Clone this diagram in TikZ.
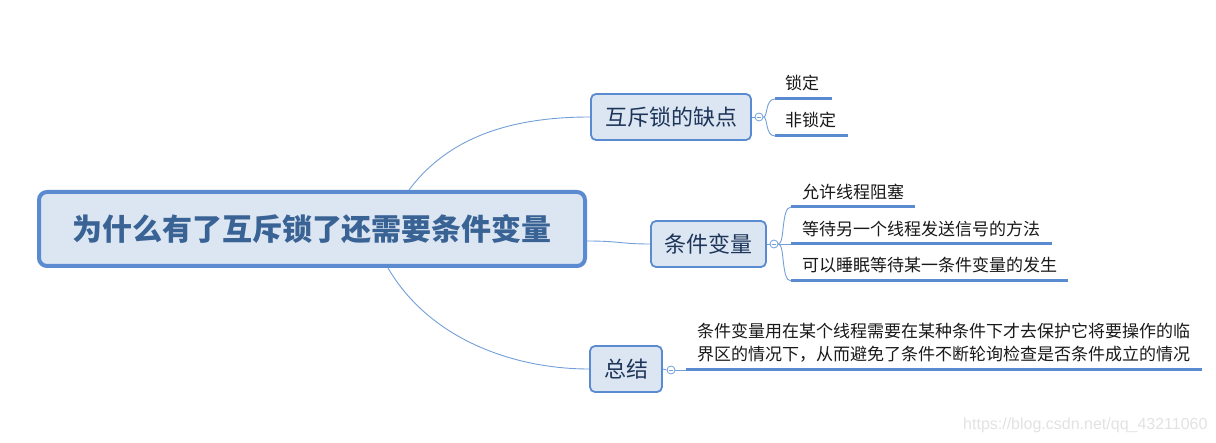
\documentclass[tikz,border=0pt]{standalone}
\usepackage{fontspec}
\newfontfamily\cjk{Noto Sans CJK SC}
\newfontfamily\wmfont{Liberation Sans}
\definecolor{bordblue}{HTML}{5A8BD1}
\definecolor{boxfill}{HTML}{DCE6F2}
\definecolor{roottext}{HTML}{3A6395}
\definecolor{subtext}{HTML}{1E355A}
\definecolor{linkblue}{HTML}{739FD8}
\definecolor{wmgray}{HTML}{E2E2E2}
\begin{document}
\begin{tikzpicture}[x=1pt,y=-1pt,
  rootbox/.style={draw=bordblue, fill=boxfill, line width=4pt, rounded corners=8pt,
    minimum width=546pt, minimum height=74pt, inner sep=0pt,
    font=\cjk\bfseries\fontsize{30}{34}\selectfont, text=roottext},
  subbox/.style={draw=bordblue, fill=boxfill, line width=1.8pt, rounded corners=5pt,
    minimum height=46pt, inner sep=0pt,
    font=\cjk\fontsize{22}{26}\selectfont, text=subtext},
  leaf/.style={inner sep=0pt, anchor=west, font=\cjk\fontsize{17}{23}\selectfont, text=black!90},
  toggle/.style={circle, draw=linkblue, fill=white, line width=0.8pt, minimum size=8pt, inner sep=0pt},
  link/.style={draw=linkblue, line width=0.9pt},
  uline/.style={draw=bordblue, line width=3pt},
  minus/.style={draw=linkblue, line width=0.7pt}
]
\useasboundingbox (0,0) rectangle (1216,443);

% root and main topics
\node[rootbox] (root) at (312,229) {为什么有了互斥锁了还需要条件变量};
\node[subbox, minimum width=160pt] (h1) at (671,117) {互斥锁的缺点};
\node[subbox, minimum width=115pt] (h2) at (708.5,244) {条件变量};
\node[subbox, minimum width=72pt] (h3) at (626,369) {总结};

% root connectors
\draw[link] ([xshift=97pt]root.north) .. controls (450,135) and (515,117) .. (h1.west);
\draw[link] ([yshift=-12pt]root.east) .. controls (620,241) and (620,244) .. (h2.west);
\draw[link] ([xshift=76pt]root.south) .. controls (430,340) and (515,369) .. (h3.west);

% toggles
\node[toggle] (c1) at (759,117) {};
\node[toggle] (c2) at (774,244) {};
\node[toggle] (c3) at (671,370) {};
\draw[minus] ([xshift=-2.3pt]c1.center) -- ([xshift=2.3pt]c1.center);
\draw[minus] ([xshift=-2.3pt]c2.center) -- ([xshift=2.3pt]c2.center);
\draw[minus] ([xshift=-2.3pt]c3.center) -- ([xshift=2.3pt]c3.center);
\draw[link] (h1.east) -- (c1.west);
\draw[link] (h2.east) -- (c2.west);
\draw[link] (h3.east) -- (c3.west);

% leaves of h1
\node[leaf] (a1) at (785,83) {锁定};
\node[leaf] (a2) at (785,120) {非锁定};
\coordinate (a1l) at (775,99);  \coordinate (a1r) at (832,99);
\coordinate (a2l) at (775,136); \coordinate (a2r) at (848,136);
\draw[uline] (a1l) -- (a1r);
\draw[uline] (a2l) -- (a2r);
\draw[link] (c1.east) .. controls (768,117) and (765,99) .. (a1l);
\draw[link] (c1.east) .. controls (768,117) and (765,136) .. (a2l);

% leaves of h2
\node[leaf] (b1) at (802,192) {允许线程阻塞};
\node[leaf] (b2) at (802,229) {等待另一个线程发送信号的方法};
\node[leaf] (b3) at (802,265) {可以睡眠等待某一条件变量的发生};
\coordinate (b1l) at (791,207); \coordinate (b1r) at (915,207);
\coordinate (b2l) at (791,244); \coordinate (b2r) at (1052,244);
\coordinate (b3l) at (791,281); \coordinate (b3r) at (1068,281);
\draw[uline] (b1l) -- (b1r);
\draw[uline] (b2l) -- (b2r);
\draw[uline] (b3l) -- (b3r);
\draw[link] (c2.east) .. controls (785,244) and (781,207) .. (b1l);
\draw[link] (c2.east) -- (b2l);
\draw[link] (c2.east) .. controls (785,244) and (781,281) .. (b3l);

% leaf of h3
\node[leaf, align=left] (d1) at (697,342.5) {条件变量用在某个线程需要在某种条件下才去保护它将要操作的临\\界区的情况下，从而避免了条件不断轮询检查是否条件成立的情况};
\coordinate (d1l) at (686,370); \coordinate (d1r) at (1202,370);
\draw[uline] (d1l) -- (d1r);
\draw[link] (c3.east) -- (d1l);

% watermark
\node[anchor=west, inner sep=0pt, font=\wmfont\fontsize{16}{18}\selectfont, text=wmgray] (wm) at (963,425) {https://blog.csdn.net/qq\_43211060};
\end{tikzpicture}
\end{document}
